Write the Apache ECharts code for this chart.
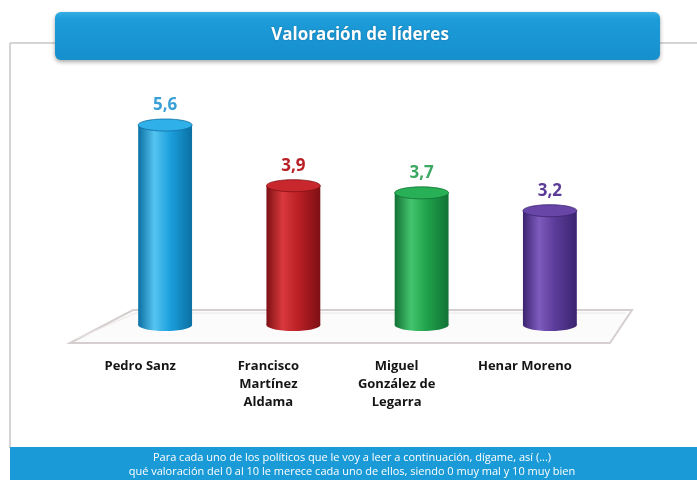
<!DOCTYPE html>
<html>
<head>
<meta charset="utf-8">
<script src="https://cdn.jsdelivr.net/npm/echarts@6/dist/echarts.min.js"></script>
<style>
  html, body { margin: 0; padding: 0; background: #fff; }
  #chart { width: 697px; height: 480px; }
</style>
</head>
<body>
<div id="chart"></div>
<script>
// datos
var leaders = ['Pedro Sanz', 'Francisco\nMartínez\nAldama', 'Miguel\nGonzález de\nLegarra', 'Henar Moreno'];
var ratings = [5.6, 3.9, 3.7, 3.2];
var barColors = [
  { base: '#1b9fdc', light: '#55c4f1', dark: '#0b6fa3', top: '#2fb0e8', label: '#3a9fd6' },
  { base: '#b91f25', light: '#d8393c', dark: '#7d1014', top: '#c8282d', label: '#b92026' },
  { base: '#1fa24b', light: '#44c46e', dark: '#127235', top: '#27b056', label: '#3da863' },
  { base: '#5b3b98', light: '#7d5bbd', dark: '#3c2470', top: '#6746a8', label: '#5b3b98' }
];
var titleText = 'Valoración de líderes';
var footerLines = [
  'Para cada uno de los políticos que le voy a leer a continuación, dígame, así (...)',
  'qué valoración del 0 al 10 le merece cada uno de ellos, siendo 0 muy mal y 10 muy bien'
];

var chart = echarts.init(document.getElementById('chart'), null, { renderer: 'canvas' });

// cilindro: rectangulo con degradado + elipses arriba y abajo
function renderCylinder(params, api) {
  var idx = api.value(0);
  var top = api.coord([idx, api.value(1)]);
  var base = api.coord([idx, 0]);
  var w = api.size([1, 0])[0] * 0.42;
  var rx = w / 2, ry = 6;
  var c = barColors[params.dataIndex];
  var sideFill = new echarts.graphic.LinearGradient(0, 0, 1, 0, [
    { offset: 0, color: c.dark },
    { offset: 0.3, color: c.light },
    { offset: 0.6, color: c.base },
    { offset: 1, color: c.dark }
  ]);
  return {
    type: 'group',
    children: [
      { type: 'ellipse', shape: { cx: base[0], cy: base[1], rx: rx, ry: ry }, style: { fill: sideFill } },
      { type: 'rect', shape: { x: top[0] - rx, y: top[1], width: w, height: base[1] - top[1] }, style: { fill: sideFill } },
      { type: 'ellipse', shape: { cx: top[0], cy: top[1], rx: rx, ry: ry }, style: { fill: c.top, stroke: c.dark, lineWidth: 0.8 } },
      {
        type: 'text',
        x: top[0], y: top[1] - ry - 5,
        style: {
          text: String(api.value(1)).replace('.', ','),
          align: 'center', verticalAlign: 'bottom',
          fill: c.label, font: 'bold 17px "Open Sans", sans-serif'
        }
      }
    ]
  };
}

var option = {
  backgroundColor: '#ffffff',
  title: {
    text: titleText,
    left: 355, top: 22, textAlign: 'center',
    textStyle: { color: '#ffffff', fontSize: 17, fontWeight: 'bold', fontFamily: 'Open Sans',
      textShadowColor: 'rgba(0,0,0,0.25)', textShadowBlur: 2 }
  },
  grid: { left: 101, right: 83, top: 75, bottom: 155 },
  xAxis: {
    type: 'category',
    data: leaders,
    axisLine: { show: false },
    axisTick: { show: false },
    axisLabel: {
      interval: 0, hideOverlap: false,
      margin: 32, color: '#151515', fontSize: 13, fontWeight: 'bold',
      fontFamily: 'Open Sans', lineHeight: 18, padding: [0, 50, 0, 0]
    }
  },
  yAxis: { type: 'value', min: 0, max: 7, show: false, splitLine: { show: false } },
  graphic: [
    // marco gris
    { type: 'line', z: 0, shape: { x1: 10, y1: 43, x2: 697, y2: 43 }, style: { stroke: '#d4d4d4', lineWidth: 2 } },
    { type: 'line', z: 0, shape: { x1: 10, y1: 43, x2: 10, y2: 448 }, style: { stroke: '#d4d4d4', lineWidth: 2 } },
    // barra del titulo
    { type: 'rect', z: 1, shape: { x: 55, y: 12, width: 605, height: 48, r: 6 },
      style: {
        fill: new echarts.graphic.LinearGradient(0, 0, 0, 1, [
          { offset: 0, color: '#35aee4' }, { offset: 0.15, color: '#1c9cd9' }, { offset: 1, color: '#168fcd' }
        ]),
        shadowColor: 'rgba(0,0,0,0.35)', shadowBlur: 4, shadowOffsetY: 2
      } },
    // suelo en perspectiva
    { type: 'polygon', z: 0, shape: { points: [[70, 343], [133, 310], [632, 310], [610, 343]] },
      style: { fill: '#fbfbfb', stroke: '#d6cfcf', lineWidth: 2 } },
    { type: 'polyline', z: 0, shape: { points: [[76, 339], [136, 313], [626, 313]] },
      style: { fill: null, stroke: '#ece6e6', lineWidth: 1 } },
    // pie
    { type: 'rect', z: 1, shape: { x: 10, y: 447, width: 687, height: 33 }, style: { fill: '#1a9ad6' } },
    { type: 'text', z: 2, x: 352, y: 458, style: { text: footerLines[0], align: 'center', verticalAlign: 'middle',
      fill: '#ffffff', font: '11px "Open Sans", sans-serif' } },
    { type: 'text', z: 2, x: 352, y: 472, style: { text: footerLines[1], align: 'center', verticalAlign: 'middle',
      fill: '#ffffff', font: '11px "Open Sans", sans-serif' } }
  ],
  series: [{
    type: 'custom',
    renderItem: renderCylinder,
    encode: { x: 0, y: 1 },
    data: ratings.map(function (v, i) { return [i, v]; }),
    z: 5
  }]
};

chart.setOption(option);
</script>
</body>
</html>
